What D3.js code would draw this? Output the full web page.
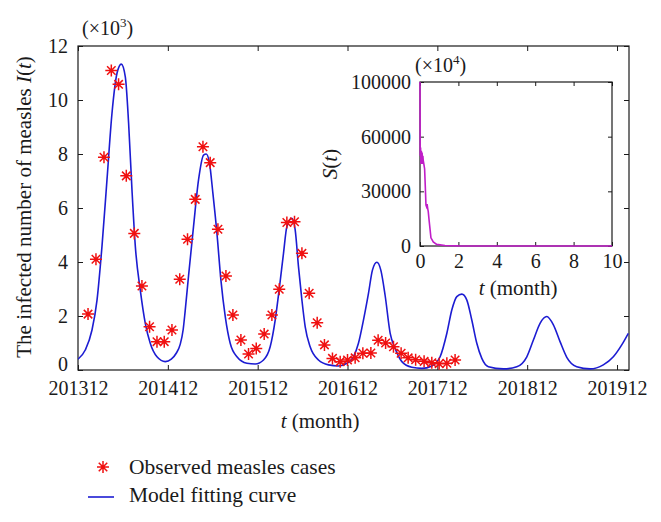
<!DOCTYPE html>
<html><head><meta charset="utf-8">
<script src="https://cdn.jsdelivr.net/npm/d3@7"></script>
<style>
body{margin:0;background:#fff}
svg{display:block}
text{font-family:"Liberation Serif","Times New Roman",serif;fill:#1a1a1a}
</style>
</head><body>
<svg id="c" width="661" height="522"></svg>
<script>
// ---------- data ----------
const tickMonths = [0, 12, 24, 36, 48, 60, 72];
const tickLabels = ["201312", "201412", "201512", "201612", "201712", "201812", "201912"];
const yTicks = [0, 2, 4, 6, 8, 10, 12];

// observed measles cases (x: months since 2013-12, y: thousands)
const obsMonth = [1.34, 2.40, 3.47, 4.45, 5.42, 6.45, 7.52, 8.54, 9.56, 10.55,
  11.52, 12.55, 13.59, 14.63, 15.66, 16.69, 17.66, 18.69, 19.76, 20.69,
  21.76, 22.78, 23.81, 24.87, 25.90, 26.88, 27.90, 28.92, 29.91, 30.88,
  31.95, 32.92, 33.99, 35.02, 36.00, 37.02, 38.05, 39.12, 40.09, 41.09,
  42.14, 43.16, 44.10, 45.10, 46.23, 47.26, 48.24, 49.27, 50.37];
const obsValue = [2.07, 4.10, 7.88, 11.09, 10.58, 7.19, 5.06, 3.11, 1.60, 1.05,
  1.05, 1.48, 3.36, 4.84, 6.32, 8.27, 7.68, 5.21, 3.48, 2.04,
  1.11, 0.59, 0.80, 1.33, 2.04, 2.99, 5.46, 5.49, 4.32, 2.84,
  1.75, 0.93, 0.43, 0.31, 0.37, 0.45, 0.62, 0.63, 1.10, 1.00,
  0.86, 0.62, 0.45, 0.38, 0.32, 0.27, 0.23, 0.25, 0.37];

// model fitting curve
const fitMonth = [0, 0.97, 1.87, 2.54, 3.20, 3.87, 4.54, 5.21, 5.78, 6.32, 6.76, 7.21, 7.66, 8.32, 8.99, 9.65, 10.55,
  11.66, 12.46, 13.12, 13.65, 14.05, 14.32, 14.77, 15.43, 16.10, 16.77, 17.13, 17.57, 18.02, 18.56, 19.09, 19.67, 20.33, 21.23, 22.56,
  23.67, 24.78, 25.67, 26.34, 26.92, 27.45, 27.90, 28.57, 29.01, 29.45, 29.91, 30.35, 31.01, 32.12, 33.46,
  34.79, 35.91, 36.80, 37.46, 38.13, 38.80, 39.33, 39.92, 40.45, 41.03, 41.70, 42.36, 43.26, 44.59, 45.93,
  47.26, 48.37, 49.27, 49.93, 50.60, 51.27, 51.94, 52.60, 53.27, 53.94, 54.82, 56.82, 58.61,
  59.95, 60.83, 61.72, 62.62, 63.50, 64.39, 65.29, 66.62, 68.40, 70.17, 71.51, 72.63, 73.51];
const fitValue = [0.40, 0.74, 1.48, 2.59, 4.57, 7.04, 9.51, 10.99, 11.33, 10.86, 9.14, 6.67, 4.57, 2.96, 1.73, 0.99, 0.49,
  0.31, 0.40, 0.62, 0.95, 1.5, 2.2, 3.5, 5.31, 7.04, 7.96, 8.0, 7.65, 6.54, 5.06, 3.33, 1.98, 0.99, 0.49, 0.25,
  0.22, 0.37, 0.86, 1.85, 3.09, 4.32, 5.31, 5.62, 5.19, 3.83, 2.59, 1.60, 0.86, 0.37, 0.19,
  0.15, 0.25, 0.49, 0.99, 1.85, 2.84, 3.70, 3.99, 3.70, 2.75, 1.36, 0.80, 0.31, 0.10, 0.06,
  0.15, 0.49, 1.36, 2.22, 2.72, 2.81, 2.59, 1.85, 0.99, 0.43, 0.12, 0.04, 0.12,
  0.49, 1.11, 1.73, 1.98, 1.67, 1.05, 0.47, 0.12, 0.04, 0.19, 0.49, 0.93, 1.36];

// inset S(t)
const insetT = [0, 0.01, 0.03, 0.05, 0.07, 0.09, 0.11, 0.13, 0.15, 0.17, 0.20, 0.24, 0.28, 0.31, 0.34, 0.37, 0.40, 0.43, 0.48, 0.57, 0.69, 0.87, 1.3, 2.0, 3.0, 10];
const insetS = [100000, 55000, 60000, 50000, 58000, 52000, 57000, 50000, 55000, 52000, 50000, 47000, 35000, 25000, 24000, 25500, 23000, 21000, 15000, 5000, 2500, 1000, 300, 50, 0, 0];
const insetXTicks = [0, 2, 4, 6, 8, 10];
const insetYTickValues = [0, 100000 / 3, 200000 / 3, 100000];
const insetYTickLabels = ["0", "30000", "60000", "100000"];

// ---------- drawing ----------
const svg = d3.select("#c");
const FS = 20;
const ink = "#1a1a1a";

const x = d3.scaleLinear([0, 73.6], [78, 629]);
const y = d3.scaleLinear([0, 12], [370, 46]);

function styleAxis(g, fs) {
  g.select(".domain").remove();
  g.selectAll("line").attr("stroke", ink);
  g.selectAll("text").attr("font-size", fs).attr("fill", ink)
    .attr("font-family", '"Liberation Serif","Times New Roman",serif');
}

// main frame
svg.append("rect").attr("x", x.range()[0]).attr("y", y.range()[1])
  .attr("width", x.range()[1] - x.range()[0]).attr("height", y.range()[0] - y.range()[1])
  .attr("fill", "#fff").attr("stroke", ink).attr("stroke-width", 1.2);

svg.append("g").attr("transform", `translate(0,${y.range()[0]})`)
  .call(d3.axisBottom(x).tickValues(tickMonths).tickFormat((d, i) => tickLabels[i]).tickSize(-5).tickSizeOuter(0).tickPadding(11))
  .call(g => styleAxis(g, FS));
svg.append("g").attr("transform", `translate(0,${y.range()[1]})`)
  .call(d3.axisTop(x).tickValues(tickMonths).tickFormat("").tickSize(-5).tickSizeOuter(0))
  .call(g => styleAxis(g, FS));
svg.append("g").attr("transform", `translate(${x.range()[0]},0)`)
  .call(d3.axisLeft(y).tickValues(yTicks).tickSize(-5).tickSizeOuter(0).tickPadding(10))
  .call(g => styleAxis(g, FS))
  .call(g => g.selectAll(".tick text").filter(d => d === 0).attr("dy", "0.0em"));
svg.append("g").attr("transform", `translate(${x.range()[1]},0)`)
  .call(d3.axisRight(y).tickValues(yTicks).tickFormat("").tickSize(-5).tickSizeOuter(0))
  .call(g => styleAxis(g, FS));

// clip
svg.append("clipPath").attr("id", "mainClip").append("rect")
  .attr("x", x.range()[0]).attr("y", y.range()[1])
  .attr("width", x.range()[1] - x.range()[0]).attr("height", y.range()[0] - y.range()[1]);

// model curve
const fitData = fitMonth.map((m, i) => [m, fitValue[i]]);
svg.append("path").attr("clip-path", "url(#mainClip)")
  .datum(fitData)
  .attr("fill", "none").attr("stroke", "#1c1cd2").attr("stroke-width", 1.6)
  .attr("d", d3.line().x(d => x(d[0])).y(d => y(d[1])).curve(d3.curveMonotoneX));

// stars
function starPath(r) {
  const a = r * 0.707;
  return `M0,${-r}V${r}M${-r},0H${r}M${-a},${-a}L${a},${a}M${-a},${a}L${a},${-a}`;
}
const obsData = obsMonth.map((m, i) => [m, obsValue[i]]);
svg.append("g").selectAll("path").data(obsData).join("path")
  .attr("transform", d => `translate(${x(d[0])},${y(d[1])})`)
  .attr("d", starPath(6)).attr("stroke", "#f01010").attr("stroke-width", 1.5).attr("fill", "none");

// main labels
svg.append("text").attr("x", 82).attr("y", 35).attr("font-size", FS)
  .html('(×10<tspan dy="-8" font-size="13">3</tspan><tspan dy="8">)</tspan>');
svg.append("text").attr("transform", "translate(31,207) rotate(-90)").attr("text-anchor", "middle").attr("font-size", 21)
  .html('The infected number of measles <tspan font-style="italic">I</tspan>(<tspan font-style="italic">t</tspan>)');
svg.append("text").attr("x", 320).attr("y", 428).attr("text-anchor", "middle").attr("font-size", 21)
  .html('<tspan font-style="italic">t</tspan> (month)');

// ---------- inset ----------
const xi = d3.scaleLinear([0, 10], [420, 612]);
const yi = d3.scaleLinear([0, 100000], [246, 82]);
svg.append("rect").attr("x", xi.range()[0]).attr("y", yi.range()[1])
  .attr("width", xi.range()[1] - xi.range()[0]).attr("height", yi.range()[0] - yi.range()[1])
  .attr("fill", "#fff").attr("stroke", ink).attr("stroke-width", 1.2);
svg.append("g").attr("transform", `translate(0,${yi.range()[0]})`)
  .call(d3.axisBottom(xi).tickValues(insetXTicks).tickSize(-4).tickSizeOuter(0).tickPadding(8))
  .call(g => styleAxis(g, FS));
svg.append("g").attr("transform", `translate(0,${yi.range()[1]})`)
  .call(d3.axisTop(xi).tickValues(insetXTicks).tickFormat("").tickSize(-4).tickSizeOuter(0))
  .call(g => styleAxis(g, FS));
svg.append("g").attr("transform", `translate(${xi.range()[0]},0)`)
  .call(d3.axisLeft(yi).tickValues(insetYTickValues).tickFormat((d, i) => insetYTickLabels[i]).tickSize(-4).tickSizeOuter(0).tickPadding(9))
  .call(g => styleAxis(g, FS));
svg.append("g").attr("transform", `translate(${xi.range()[1]},0)`)
  .call(d3.axisRight(yi).tickValues(insetYTickValues).tickFormat("").tickSize(-4).tickSizeOuter(0))
  .call(g => styleAxis(g, FS));

const sData = insetT.map((t, i) => [t, insetS[i]]);
svg.append("path").datum(sData)
  .attr("fill", "none").attr("stroke", "#c01ec8").attr("stroke-width", 1.6)
  .attr("d", d3.line().x(d => xi(d[0])).y(d => yi(d[1])));

svg.append("text").attr("x", 415).attr("y", 72).attr("font-size", FS)
  .html('(×10<tspan dy="-8" font-size="13">4</tspan><tspan dy="8">)</tspan>');
svg.append("text").attr("transform", "translate(337,164) rotate(-90)").attr("text-anchor", "middle").attr("font-size", 21)
  .html('<tspan font-style="italic">S</tspan>(<tspan font-style="italic">t</tspan>)');
svg.append("text").attr("x", 518).attr("y", 295).attr("text-anchor", "middle").attr("font-size", 21)
  .html('<tspan font-style="italic">t</tspan> (month)');

// ---------- legend ----------
svg.append("path").attr("transform", "translate(103,467)").attr("d", starPath(6))
  .attr("stroke", "#f01010").attr("stroke-width", 1.5).attr("fill", "none");
svg.append("text").attr("x", 129).attr("y", 474).attr("font-size", 21.5).text("Observed measles cases");
svg.append("line").attr("x1", 88).attr("x2", 114).attr("y1", 497).attr("y2", 497)
  .attr("stroke", "#1c1cd2").attr("stroke-width", 1.6);
svg.append("text").attr("x", 129).attr("y", 502).attr("font-size", 21.5).text("Model fitting curve");
</script>
</body></html>
